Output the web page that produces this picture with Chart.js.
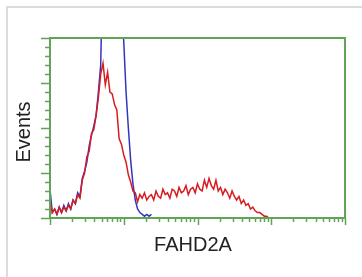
<!DOCTYPE html>
<html>
<head>
<meta charset="utf-8">
<script src="https://cdn.jsdelivr.net/npm/chart.js@4.4.0/dist/chart.umd.min.js"></script>
<style>
  html, body { margin: 0; padding: 0; background: #fff; }
  canvas { display: block; }
</style>
</head>
<body>
<canvas id="chart" width="362" height="277"></canvas>
<script>
// histogram bins: 128 bins of 2 channels each, 256 channels over 4 log decades
const binWidth = 2;
const channelMax = 256;
const decadeChannels = 64;

// isotype control (blue), counts as % of full scale
const controlCounts = [
  16, 3, 5, 2, 6, 3, 7, 4, 8, 5,
  10, 8, 14, 12, 22, 26, 31, 40, 46, 51,
  57, 70, 85, 150, 175, 185, 180, 175, 170, 160,
  140, 115, 98, 70, 50, 32, 19, 10, 5, 3,
  2, 1, 2, 1, 2
];

// FAHD2A stained (red)
const stainedCounts = [
  10, 3, 5, 2, 6, 3, 6, 4, 7, 5,
  10, 8, 13, 11, 21, 25, 34, 37, 47, 49,
  57, 67, 80, 86, 74, 81, 70, 69, 63, 60,
  44, 41, 35, 31, 24, 20, 15, 14, 9, 13,
  11, 14, 10, 12, 13, 10, 15, 12, 11, 16,
  13, 14, 11, 16, 15, 12, 17, 14, 15, 18,
  13, 16, 17, 14, 19, 16, 15, 21, 17, 22,
  18, 16, 21, 15, 17, 13, 16, 14, 11, 15,
  12, 10, 12, 8, 10, 7, 8, 5, 6, 4,
  3, 3, 2, 1, 1, 0
];

const xTitle = 'FAHD2A';
const yTitle = 'Events';
const yMajorTicks = [0, 25, 50, 75, 100];
const yMinorStep = 5;

const toPoints = counts => counts.map((c, i) => ({ x: i * binWidth, y: c }));

const axisGreen = 'rgb(96,165,86)';

const flowAxes = {
  id: 'flowAxes',
  afterDatasetsDraw(chart) {
    const { ctx, chartArea: a, scales } = chart;
    const xs = scales.x, ys = scales.y;
    ctx.save();
    // outer light frame
    ctx.strokeStyle = '#dcdcdc';
    ctx.lineWidth = 2;
    ctx.beginPath();
    ctx.moveTo(7, 277);
    ctx.lineTo(7, 7);
    ctx.lineTo(362, 7);
    ctx.stroke();

    ctx.strokeStyle = axisGreen;
    ctx.lineWidth = 2;
    ctx.strokeRect(a.left, a.top, a.right - a.left, a.bottom - a.top);

    // y ticks
    ctx.lineWidth = 1.5;
    ctx.beginPath();
    for (let v = 0; v <= 100; v += yMinorStep) {
      const y = Math.round(ys.getPixelForValue(v)) + 0.5;
      const len = yMajorTicks.includes(v) ? 9 : 5;
      ctx.moveTo(a.left, y);
      ctx.lineTo(a.left - len, y);
    }
    // x ticks, log decades
    for (let d = 0; d < channelMax; d += decadeChannels) {
      for (let k = 1; k <= 10; k++) {
        const ch = d + decadeChannels * Math.log10(k);
        const x = Math.round(xs.getPixelForValue(ch)) + 0.5;
        const len = (k === 1 || k === 10) ? 7 : 4;
        ctx.moveTo(x, a.bottom);
        ctx.lineTo(x, a.bottom + len);
      }
    }
    ctx.stroke();

    // titles
    ctx.fillStyle = '#222';
    ctx.font = '20px "Liberation Sans", Arial, sans-serif';
    ctx.textAlign = 'center';
    ctx.textBaseline = 'alphabetic';
    ctx.fillText(xTitle, 193, 251);
    ctx.translate(30, 132);
    ctx.rotate(-Math.PI / 2);
    ctx.fillText(yTitle, 0, 0);
    ctx.restore();
  }
};

new Chart(document.getElementById('chart'), {
  type: 'line',
  data: {
    datasets: [
      {
        label: 'FAHD2A',
        data: toPoints(stainedCounts),
        borderColor: 'rgb(214,28,34)',
        borderWidth: 1.5,
        pointRadius: 0,
        tension: 0
      },
      {
        label: 'Control',
        data: toPoints(controlCounts),
        borderColor: 'rgba(30,30,185,0.9)',
        borderWidth: 1.5,
        pointRadius: 0,
        tension: 0
      }
    ]
  },
  options: {
    responsive: false,
    animation: false,
    layout: { padding: { left: 50, top: 38, right: 17, bottom: 59 } },
    plugins: { legend: { display: false }, tooltip: { enabled: false } },
    scales: {
      x: { type: 'linear', min: 0, max: channelMax, display: false },
      y: { min: 0, max: 100, display: false }
    }
  },
  plugins: [flowAxes]
});
</script>
</body>
</html>
